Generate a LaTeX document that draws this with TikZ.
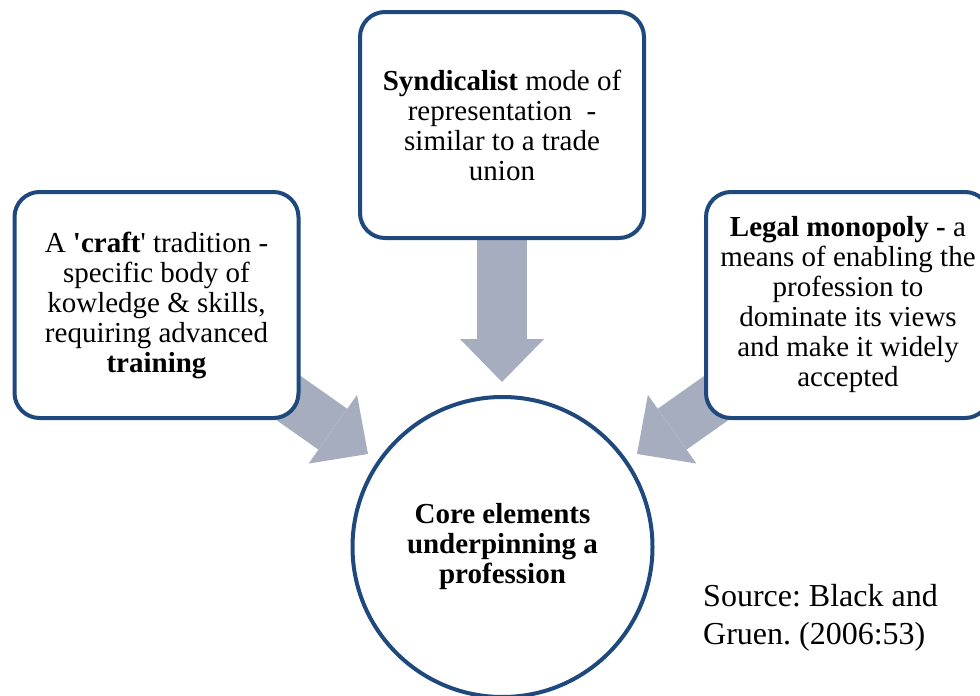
\documentclass[tikz,border=0pt]{standalone}
\usepackage{fontspec}
\setmainfont{Liberation Serif}[Ligatures=TeXOff]
\usetikzlibrary{calc}
\pgfdeclarelayer{background}
\pgfsetlayers{background,main}
\definecolor{bordercol}{RGB}{31,73,125}
\definecolor{arrowcol}{RGB}{166,173,190}
\begin{document}
\frenchspacing
\begin{tikzpicture}[x=1pt,y=-1pt,
  box/.style={draw=bordercol, line width=4pt, rounded corners=25pt, fill=white,
    minimum width=284pt, minimum height=226pt, align=center, inner sep=0pt,
    font=\fontsize{29}{30}\selectfont},
  core/.style={draw=bordercol, line width=4pt, circle, fill=white,
    minimum size=300pt, align=center, inner sep=0pt,
    font=\fontsize{29}{30}\selectfont\bfseries},
  shaft/.style={draw=arrowcol, line width=50pt},
  head/.style={fill=arrowcol}]
\clip (0,0) rectangle (980,696);
\useasboundingbox (0,0) rectangle (980,696);

\node[box] (L) at (156.5,305) {A \textbf{'craft}' tradition -\\specific body of\\kowledge \& skills,\\requiring advanced\\\textbf{training}};
\node[box] (T) at (502,125) {\textbf{Syndicalist} mode of\\representation\ \ -\\similar to a trade\\union};
\node[box] (R) at (848,305) {\textbf{Legal monopoly -} a\\means of enabling the\\profession to\\dominate its views\\and make it widely\\accepted};
\node[core] (C) at (502.5,547) {Core elements\\underpinning a\\profession};
\node[anchor=west, align=left, inner sep=0pt, font=\fontsize{32}{38}\selectfont\frenchspacing] (S) at (703,618) {Source: Black and\\Gruen. (2006:53)};

\coordinate (lt) at (368,454);
\coordinate (tt) at (502,382);
\coordinate (rt) at (637,454);

\begin{pgfonlayer}{background}
\foreach \src/\tip in {L/lt, T/tt, R/rt}{
  \coordinate (b\tip) at ($(\tip)!43pt!(\src.center)$);
  \draw[shaft] (\src.center) -- (b\tip);
  \fill[head] (\tip) -- ($(b\tip)!42pt!90:(\tip)$) -- ($(b\tip)!42pt!-90:(\tip)$) -- cycle;
}
\end{pgfonlayer}
\end{tikzpicture}
\end{document}
